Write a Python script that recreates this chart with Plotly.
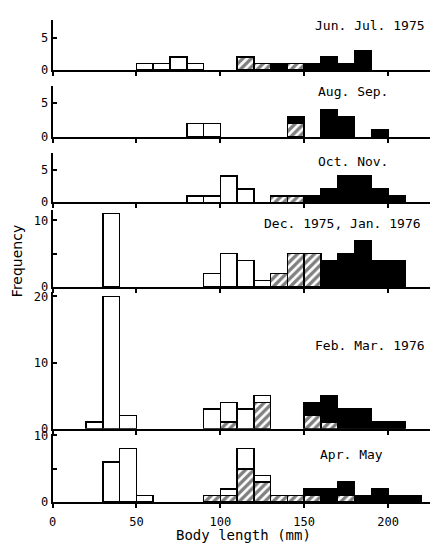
import plotly.graph_objects as go

W, H = 430, 547

bin_left = list(range(0, 230, 10))  # 10-mm body length classes

def series(d):
    return [d.get(b, 0) for b in bin_left]

panel_titles = ["Jun. Jul. 1975", "Aug. Sep.", "Oct. Nov.",
                "Dec. 1975, Jan. 1976", "Feb. Mar. 1976", "Apr. May"]

# open (white), hatched, black counts per 10-mm class
jun_open = series({50: 1, 60: 1, 70: 2, 80: 1})
jun_hatch = series({110: 2, 120: 1, 140: 1})
jun_black = series({130: 1, 150: 1, 160: 2, 170: 1, 180: 3})

aug_open = series({80: 2, 90: 2})
aug_hatch = series({140: 2})
aug_black = series({140: 1, 160: 4, 170: 3, 190: 1})

oct_open = series({80: 1, 90: 1, 100: 4, 110: 2})
oct_hatch = series({130: 1, 140: 1})
oct_black = series({150: 1, 160: 2, 170: 4, 180: 4, 190: 2, 200: 1})

dec_open = series({30: 11, 90: 2, 100: 5, 110: 4, 120: 1})
dec_hatch = series({130: 2, 140: 5, 150: 5})
dec_black = series({160: 4, 170: 5, 180: 7, 190: 4, 200: 4})

feb_open = series({20: 1, 30: 20, 40: 2, 90: 3, 100: 3, 110: 3, 120: 1})
feb_hatch = series({100: 1, 120: 4, 150: 2, 160: 1})
feb_black = series({150: 2, 160: 4, 170: 3, 180: 3, 190: 1, 200: 1})

apr_open = series({30: 6, 40: 8, 50: 1, 100: 1, 110: 3, 120: 1})
apr_hatch = series({90: 1, 100: 1, 110: 5, 120: 3, 130: 1, 140: 1, 150: 1, 170: 1})
apr_black = series({150: 1, 160: 2, 170: 2, 180: 1, 190: 2, 200: 1, 210: 1})

panels = [
    (jun_open, jun_hatch, jun_black),
    (aug_open, aug_hatch, aug_black),
    (oct_open, oct_hatch, oct_black),
    (dec_open, dec_hatch, dec_black),
    (feb_open, feb_hatch, feb_black),
    (apr_open, apr_hatch, apr_black),
]

y_max = [7.75, 7.4, 7.5, 11.5, 20.7, 10.25]
y_ticks = [[0, 5], [0, 5], [0, 5], [0, 5, 10], [0, 10, 20], [0, 5, 10]]
y_ticktext = [["0", "5"], ["0", "5"], ["0", "5"], ["0", "", "10"],
              ["0", "10", "20"], ["0", "", "10"]]
x_ticks = [0, 50, 100, 150, 200]

# layout (pixels)
panel_px = [(15, 66.7), (83.3, 135), (151.7, 201.7), (210, 288.3),
            (293.3, 433.3), (438.3, 508.3)]
x_left_px = 49
title_pos = [(427, 21, "right"), (315, 88, "left"), (315, 160, "left"),
             (423, 223, "right"), (427, 348, "right"), (317, 460, "left")]

mono = "DejaVu Sans Mono"
x_centers = [b + 5 for b in bin_left]

def nz(v):
    return [val if val else None for val in v]

fig = go.Figure()
layout = dict(width=W, height=H, margin=dict(l=0, r=0, t=0, b=0),
              paper_bgcolor="white", plot_bgcolor="white",
              barmode="stack", showlegend=False, annotations=[])

for i, (op, ha, bl) in enumerate(panels):
    n = "" if i == 0 else str(i + 1)
    xa, ya = "x" + n, "y" + n
    common = dict(x=x_centers, width=10, xaxis=xa, yaxis=ya, hoverinfo="skip")
    fig.add_trace(go.Bar(y=nz(ha), marker=dict(
        color="white", line=dict(color="black", width=1.5),
        pattern=dict(shape="/", fgcolor="black", bgcolor="white",
                     size=6, solidity=0.55)), **common))
    fig.add_trace(go.Bar(y=nz(op), marker=dict(
        color="white", line=dict(color="black", width=1.5)), **common))
    fig.add_trace(go.Bar(y=nz(bl), marker=dict(
        color="black", line=dict(color="black", width=1.5)), **common))

    top, bot = panel_px[i]
    layout["xaxis" + n] = dict(
        domain=[x_left_px / W, 1], range=[0, 225], anchor=ya,
        showline=True, linecolor="black", linewidth=2,
        ticks="outside", ticklen=4, tickwidth=1.5, tickcolor="black",
        tickvals=x_ticks, showticklabels=(i == 5), showgrid=False,
        ticklabelstandoff=3,
        zeroline=False, tickfont=dict(family=mono, size=12, color="black"))
    layout["yaxis" + n] = dict(
        domain=[1 - bot / H, 1 - top / H], range=[0, y_max[i]], anchor=xa,
        showline=True, linecolor="black", linewidth=2,
        ticks="inside", ticklen=4, tickwidth=1.5, tickcolor="black",
        tickvals=y_ticks[i], ticktext=y_ticktext[i], showgrid=False,
        zeroline=False, tickfont=dict(family=mono, size=12, color="black"))
    tx, ty, anc = title_pos[i]
    layout["annotations"].append(dict(
        text=panel_titles[i], x=tx / W, y=1 - ty / H, xref="paper",
        yref="paper", xanchor=anc, yanchor="middle", showarrow=False,
        font=dict(family=mono, size=13, color="black")))

layout["annotations"].append(dict(
    text="Frequency", x=13 / W, y=1 - 262 / H, xref="paper", yref="paper",
    textangle=-90, showarrow=False, xanchor="center", yanchor="middle",
    font=dict(family="DejaVu Sans", size=14, color="black")))
layout["annotations"].append(dict(
    text="Body length (mm)", x=242 / W, y=1 - 542 / H, xref="paper",
    yref="paper", showarrow=False, xanchor="center", yanchor="middle",
    font=dict(family=mono, size=14, color="black")))

fig.update_layout(**layout)
fig.write_html("out.html", config={"displayModeBar": False},
               post_script="document.body.style.margin='0';"
                           "document.body.style.overflow='hidden';")
